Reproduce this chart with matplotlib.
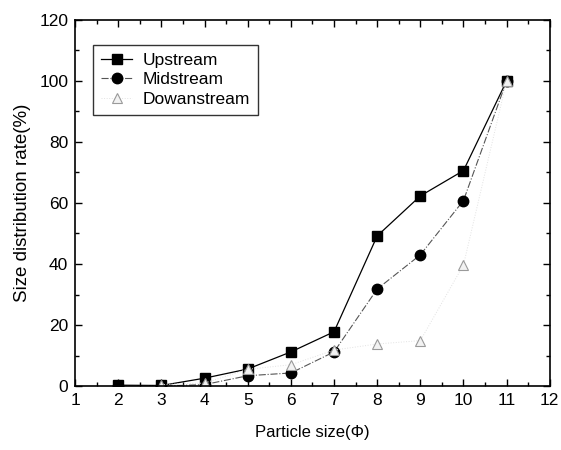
import matplotlib.pyplot as plt
from matplotlib.ticker import MultipleLocator

# particle size classes (phi)
particle_size = [2, 3, 4, 5, 6, 7, 8, 9, 10, 11]
upstream = [0.3, 0.2, 2.6, 5.6, 11.2, 17.8, 49.2, 62.3, 70.6, 100]
midstream = [0.0, 0.0, 0.5, 3.4, 4.3, 11.2, 31.8, 43.0, 60.8, 100]
downstream_size = [3, 4, 5, 6, 7, 8, 9, 10, 11]
downstream = [0.5, 1.0, 5.5, 7.0, 11.8, 13.8, 14.9, 39.7, 100]

plt.rcParams["font.family"] = ["Liberation Sans", "DejaVu Sans"]

fig = plt.figure(figsize=(5.61, 4.5), dpi=100)
ax = fig.add_axes([0.134, 0.142, 0.846, 0.814])

ax.plot(particle_size, upstream, "-", color="black", lw=0.9,
        marker="s", ms=7, mfc="black", mec="black", label="Upstream")
ax.plot(particle_size, midstream, "-.", color="#555555", lw=0.8,
        marker="o", ms=7.5, mfc="black", mec="black", label="Midstream")
ax.plot(downstream_size, downstream, ":", color="#e2e2e2", lw=0.7,
        marker="^", ms=7, mfc="#f2f2f2", mec="#9a9a9a", mew=0.8,
        label="Dowanstream")

ax.set_xlim(1, 12)
ax.set_ylim(0, 120)
ax.xaxis.set_major_locator(MultipleLocator(1))
ax.xaxis.set_minor_locator(MultipleLocator(0.5))
ax.yaxis.set_major_locator(MultipleLocator(20))
ax.yaxis.set_minor_locator(MultipleLocator(10))
ax.tick_params(which="both", direction="in", top=True, right=True,
               labelsize=12.5, width=1)
ax.tick_params(which="major", length=5, pad=5)
ax.tick_params(which="minor", length=3)
for s in ax.spines.values():
    s.set_linewidth(1.2)

ax.set_xlabel("Particle size(Φ)", fontsize=12, labelpad=12)
ax.set_ylabel("Size distribution rate(%)", fontsize=13.5, labelpad=6)

leg = ax.legend(loc="upper left", bbox_to_anchor=(0.02, 0.955), fontsize=12.5,
                frameon=True, fancybox=False, edgecolor="black",
                handlelength=1.8, borderpad=0.45, labelspacing=0.25,
                handletextpad=0.6)
leg.get_frame().set_linewidth(1.0)

fig.savefig("out.png", dpi=100)
